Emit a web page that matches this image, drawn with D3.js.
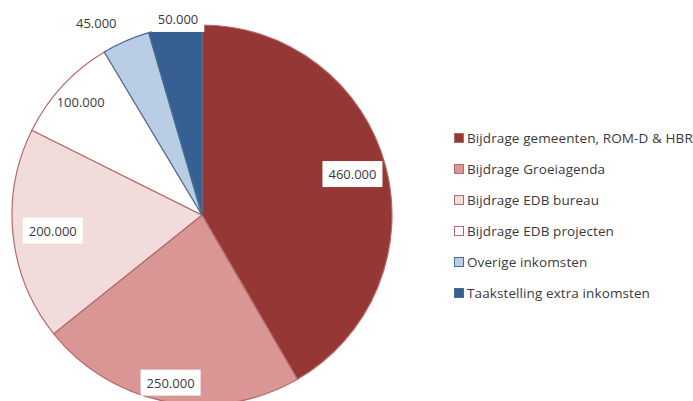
<!DOCTYPE html>
<meta charset="utf-8">
<style>
    body { margin: 0; background: #fff; }
    text { font-family: "Open Sans", sans-serif; }
</style>
<svg width="693" height="401"></svg>
<script src="https://d3js.org/d3.v7.min.js"></script>
<script>
    var categories = ["Bijdrage gemeenten, ROM-D & HBR", "Bijdrage Groeiagenda", "Bijdrage EDB bureau",
        "Bijdrage EDB projecten", "Overige inkomsten", "Taakstelling extra inkomsten"];
    var values = [460000, 250000, 200000, 100000, 45000, 50000];
    var valueLabels = ["460.000", "250.000", "200.000", "100.000", "45.000", "50.000"];
    var fills = ["#953735", "#d99694", "#f2dcdb", "#ffffff", "#b9cde5", "#376092"];
    var strokes = ["#b46a68", "#b46a68", "#b46a68", "#b46a68", "#4a6d98", "#4a6d98"];

    var svg = d3.select("svg"),
        cx = 202, cy = 215, radius = 190;

    let data = categories.map((c, i) => ({cat: c, value: values[i], label: valueLabels[i], i: i}));

    let pie = d3.pie().sort(null).value(d => d.value);
    let arc = d3.arc().innerRadius(0).outerRadius(radius);
    let arcs = pie(data);

    let color = d3.scaleOrdinal().domain(categories).range(fills);
    let edge = d3.scaleOrdinal().domain(categories).range(strokes);

    let g = svg.append("g").attr("transform", `translate(${cx},${cy})`);

    g.selectAll("path")
        .data(arcs)
        .enter()
        .append("path")
        .attr("d", arc)
        .attr("fill", d => color(d.data.cat))
        .attr("stroke", d => edge(d.data.cat))
        .attr("stroke-width", 1.2);

    // label radius per slice (fraction of radius), x nudge, boxed or not
    let labelR = [0.82, 0.9, 0.79, 0.87, 1.1, 1.04];
    let labelDx = [0, 0, 0, 0, -22, 4];
    let boxed = [true, true, true, false, false, true];

    let labels = g.selectAll("g.lbl")
        .data(arcs)
        .enter()
        .append("g")
        .attr("class", "lbl")
        .attr("transform", function (d, i) {
            let a = (d.startAngle + d.endAngle) / 2;
            let r = radius * labelR[i];
            return `translate(${Math.sin(a) * r + labelDx[i]},${-Math.cos(a) * r})`;
        });

    labels.each(function (d, i) {
        let el = d3.select(this);
        let t = el.append("text")
            .attr("text-anchor", "middle")
            .attr("dy", "0.35em")
            .attr("font-size", 13)
            .attr("fill", "#3a3a3a")
            .text(d.data.label);
        if (boxed[i]) {
            let b = t.node().getBBox();
            el.insert("rect", "text")
                .attr("x", b.x - 6)
                .attr("y", b.y - 4)
                .attr("width", b.width + 12)
                .attr("height", b.height + 8)
                .attr("fill", "#fff");
        }
    });

    // legend
    let legend = svg.append("g").attr("transform", "translate(454,138)");
    let row = legend.selectAll("g")
        .data(categories)
        .enter()
        .append("g")
        .attr("transform", (d, i) => `translate(0,${i * 31})`);
    row.append("rect")
        .attr("x", 0.5).attr("y", -4.5)
        .attr("width", 9).attr("height", 9)
        .attr("fill", d => color(d))
        .attr("stroke", d => edge(d));
    row.append("text")
        .attr("x", 13)
        .attr("dy", "0.35em")
        .attr("font-size", 13.5)
        .attr("letter-spacing", 0.1)
        .attr("fill", "#3a3a3a")
        .text(d => d);
</script>
